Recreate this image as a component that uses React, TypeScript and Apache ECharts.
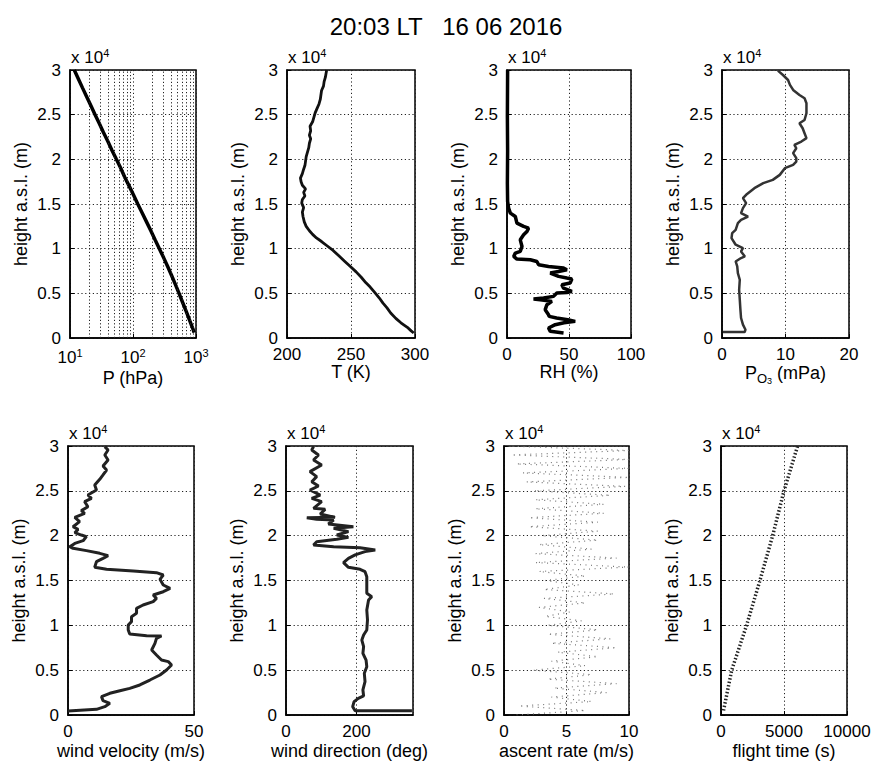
import React, { useEffect, useRef } from 'react';
import * as echarts from 'echarts';

const FONT = '"Liberation Sans", Arial, Helvetica, sans-serif';

// ---------- data ----------
const titleText = '20:03 LT   16 06 2016';

// Pressure (hPa) vs height (m)
const pHeight = [600, 1000, 2000, 3000, 4000, 5000, 6000, 7000, 8000, 9000,
  10000, 11000, 12000, 13000, 14000, 15000, 16000, 17000, 18000, 19000,
  20000, 21000, 22000, 23000, 24000, 25000, 26000, 27000, 28000, 29000, 30000];
const pValue = [935, 895, 790, 697, 612, 538, 470, 410, 355, 306,
  262, 224, 192, 164, 140, 119, 102, 87, 74, 64,
  54.5, 46.5, 40, 34, 29.2, 25, 21.5, 18.4, 15.8, 13.6, 11.7];
const pMinorTicks = [20, 30, 40, 50, 60, 70, 80, 90, 200, 300, 400, 500, 600, 700, 800, 900];

// Temperature (K)
const tHeight = [560, 800, 1200, 1700, 2200, 2800, 3400, 3900, 4500, 5100,
  5700, 6200, 6800, 7400, 8000, 8600, 9200, 9800, 10300, 10800,
  11200, 11600, 12000, 12500, 13000, 13600, 14100, 14600, 15100, 15500,
  15900, 16300, 16700, 17100, 17500, 17900, 18400, 18900, 19300, 19800,
  20300, 20800, 21300, 21800, 22300, 22700, 23200, 23700, 24200, 24700,
  25200, 25700, 26200, 26700, 27200, 27700, 28200, 28700, 29200, 29600, 30000];
const tValue = [299, 297, 294, 289, 285, 281, 278, 275, 272, 268.5,
  265, 261.5, 258, 254, 249.5, 245, 240.5, 236, 231.5, 227,
  223, 220, 217.5, 215, 213.5, 212.5, 212, 213, 211.5, 212,
  214, 213, 214.5, 212, 211, 210.5, 212, 213, 214, 214.5,
  215, 216, 217, 217.5, 218.5, 217.5, 218.5, 218, 220, 221,
  222, 223.5, 225, 226, 226.5, 227, 228.5, 229, 230, 230.5, 231];

// Relative humidity (%)
const rhHeight = [560, 745, 1120, 1490, 1700, 1860, 2050, 2240, 2420, 2610,
  3170, 3730, 4100, 4290, 4360, 4470, 4660, 5030, 5100, 5220,
  5590, 5960, 6150, 6600, 6710, 6900, 7270, 7450, 7640, 7830,
  8010, 8200, 8570, 8760, 8830, 9130, 9500, 9690, 10250, 10990,
  11550, 11930, 12300, 12490, 12860, 13600, 13980, 14540, 15280, 17330,
  21000, 24800, 30000];
const rhValue = [45.6, 34.9, 33.5, 38.9, 46, 55, 49, 40, 34, 33.5,
  30.8, 32.2, 36.2, 26.8, 21.4, 29.5, 37.5, 40.2, 48.3, 52.3,
  45.6, 44.2, 50.9, 52.3, 48.3, 41.6, 34.9, 41.6, 48.3, 45.6,
  33.5, 25.5, 24.1, 18.8, 8, 5.4, 6.7, 10.7, 12.1, 10.7,
  13.4, 16.1, 17.4, 13.4, 8, 6.7, 2.7, 1.3, 0.5, 0.3,
  0.5, 0.3, 0.5];

// Ozone partial pressure (mPa)
const o3Height = [670, 670, 930, 1490, 2240, 3170, 4290, 5400, 6520, 7270,
  8010, 8570, 8950, 9130, 9690, 10060, 10440, 11180, 11740, 12110,
  12860, 13230, 13600, 13980, 14540, 15100, 15650, 16030, 16770, 17330,
  17700, 18260, 19010, 19380, 19750, 20130, 20690, 21240, 21620, 21990,
  22370, 22920, 23480, 24040, 24410, 25160, 26280, 26840, 27210, 27770,
  28330, 28880, 29440, 29930];
const o3Value = [0.16, 3.57, 3.7, 3.3, 3.0, 2.9, 2.8, 2.7, 2.8, 2.5,
  2.4, 2.15, 3.0, 3.6, 3.0, 3.3, 2.15, 1.5, 1.6, 2.15,
  2.5, 3.0, 4.1, 3.0, 3.3, 3.8, 3.3, 3.8, 5.1, 6.5,
  8.0, 9.1, 9.9, 11.2, 11.7, 11.7, 11.2, 11.7, 11.4, 12.5,
  13.3, 13.0, 12.7, 12.2, 13.0, 13.3, 13.3, 13.0, 12.2, 11.2,
  10.7, 10.4, 9.6, 8.8];

// Wind velocity (m/s)
const wvHeight = [450, 630, 930, 1300, 1600, 2040, 2420, 2710, 2970, 3350,
  3900, 4460, 5020, 5580, 5950, 6130, 6690, 7250, 7990, 8550,
  8810, 8850, 9030, 9480, 10040, 10410, 10970, 11340, 11900, 12270,
  12640, 13010, 13380, 13750, 14130, 14500, 15130, 15610, 15870, 16060,
  16250, 16470, 17100, 17470, 17770, 18030, 18330, 18590, 18770, 19140,
  19440, 19890, 20070, 20330, 20700, 21000, 21560, 22040, 22490, 22790,
  23230, 23790, 24160, 24540, 25090, 25650, 26280, 26770, 27320, 27770,
  28440, 29000, 29550, 29930];
const wvValue = [0, 11.3, 14.6, 16.6, 13.9, 13.3, 16.6, 20.6, 24.5, 28.5,
  32.5, 36.5, 39.1, 41.1, 39.8, 37.1, 35.1, 33.2, 34.5, 35.1,
  37.1, 31.2, 24.5, 23.9, 23.9, 25.2, 25.2, 27.2, 27.2, 29.8,
  33.8, 35.1, 33.8, 37.8, 40.5, 37.8, 36.5, 37.8, 35.1, 25.9,
  15.3, 10.6, 11.3, 13.9, 15.9, 12.6, 7.3, 2, 0.7, 2.7,
  6, 7.3, 5.3, 2.7, 4, 2, 4.6, 2.7, 6.6, 5.3,
  7.9, 6.6, 9.3, 7.9, 11.3, 10.6, 12.6, 13.9, 15.3, 13.9,
  15.9, 14.6, 15.9, 14.6];

// Wind direction (deg)
const wdHeight = [480, 480, 930, 1490, 1860, 2120, 2790, 3720, 4650, 5390,
  6130, 6880, 7620, 8360, 8920, 9480, 10600, 11710, 12830, 13200,
  13570, 14680, 15430, 15990, 16250, 16470, 16990, 17470, 17850, 18220,
  18400, 18660, 18770, 18960, 19330, 19590, 19810, 20070, 20450, 20820,
  21000, 21300, 21750, 21820, 22000, 22040, 22420, 22940, 23050, 23790,
  24160, 24530, 25090, 25540, 26020, 26580, 27140, 27880, 28440, 29000,
  29550, 29930];
const wdValue = [357, 196, 189, 193, 205, 220, 218, 224, 222, 229,
  227, 218, 220, 215, 220, 229, 231, 229, 234, 243,
  229, 229, 229, 224, 210, 177, 163, 177, 196, 224,
  253, 210, 135, 78, 87, 144, 177, 144, 177, 135,
  191, 120, 135, 87, 59, 139, 97, 111, 78, 101,
  73, 97, 68, 92, 73, 87, 68, 101, 78, 92,
  73, 78];

// Ascent rate (m/s) scatter envelope (alternating left / right)
const arHeight = [0, 500, 1000, 1500, 2000, 2500, 3000, 3500, 4000, 4500,
  5000, 5500, 6000, 6500, 7000, 7500, 8000, 8500, 9000, 9500,
  10000, 10500, 11000, 11500, 12000, 12500, 13000, 13500, 14000, 14500,
  15000, 15500, 16000, 16500, 17000, 17500, 18000, 18500, 19000, 19500,
  20000, 20500, 21000, 21500, 22000, 22500, 23000, 23500, 24000, 24500,
  25000, 25500, 26000, 26500, 27000, 27500, 28000, 28500, 29000, 29500, 30000];
const arValue = [1.0, 6.5, 1.2, 7.0, 3.8, 8.2, 4.0, 9.0, 3.5, 7.0,
  2.3, 6.5, 3.8, 7.5, 4.3, 9.0, 3.8, 8.5, 3.5, 7.5,
  3.5, 6.2, 3.3, 5.3, 2.8, 6.5, 3.2, 8.8, 3.2, 6.0,
  3.3, 6.5, 2.8, 10.0, 2.5, 9.0, 2.5, 7.0, 2.8, 7.5,
  3.0, 7.5, 2.0, 7.5, 2.0, 8.0, 2.5, 8.0, 2.5, 8.5,
  2.4, 9.7, 1.8, 10.0, 1.5, 10.0, 1.0, 10.0, 0.6, 10.0, 0.3];

// Flight time (s)
const ftHeight = [500, 5000, 10000, 15000, 20000, 25000, 30000];
const ftValue = [200, 850, 2030, 3090, 4100, 5000, 6080];

// ---------- layout ----------
const grids = [
  { left: 70, top: 70, width: 126, height: 268 },
  { left: 287, top: 70, width: 128, height: 268 },
  { left: 507, top: 70, width: 124, height: 268 },
  { left: 722, top: 70, width: 127, height: 268 },
  { left: 68, top: 446, width: 126, height: 269 },
  { left: 286, top: 446, width: 127, height: 269 },
  { left: 504, top: 446, width: 125, height: 269 },
  { left: 721, top: 446, width: 126, height: 269 },
];

const zip = (xs: number[], ys: number[]) => xs.map((x, i) => [x, ys[i]]);

const gridLine = { show: true, lineStyle: { color: '#222', width: 1, type: [1.2, 2.6] } };

function makeYAxis(i: number) {
  return {
    type: 'value', gridIndex: i, min: 0, max: 30000, interval: 5000,
    name: 'height a.s.l. (m)', nameLocation: 'middle', nameGap: 40, nameRotate: 90,
    nameTextStyle: { fontSize: 18, color: '#000', fontFamily: FONT },
    axisLine: { show: true, onZero: false, lineStyle: { color: '#000', width: 1.5 } },
    axisTick: { show: true, inside: true, length: 4, lineStyle: { color: '#000', width: 1 } },
    axisLabel: {
      color: '#000', fontSize: 17, fontFamily: FONT, margin: 9, lineHeight: 10,
      formatter: (v: number) => String(v / 10000),
    },
    splitLine: gridLine,
  };
}

function makeXAxis(i: number, cfg: any) {
  const ax: any = {
    type: cfg.log ? 'log' : 'value', gridIndex: i, min: cfg.min, max: cfg.max,
    name: cfg.name, nameLocation: 'middle', nameGap: cfg.nameGap ?? (i < 4 ? 23 : 27),
    nameTextStyle: { fontSize: 18, color: '#000', fontFamily: FONT, rich: cfg.nameRich },
    axisLine: { show: true, onZero: false, lineStyle: { color: '#000', width: 1.5 } },
    axisTick: { show: true, inside: true, length: 4, lineStyle: { color: '#000', width: 1 } },
    axisLabel: {
      color: '#000', fontSize: 17, fontFamily: FONT, margin: 9, lineHeight: 14,
      showMaxLabel: cfg.showMax !== false,
      formatter: (v: number) => String(v),
      ...(cfg.label || {}),
    },
    splitLine: gridLine,
  };
  if (cfg.log) ax.logBase = 10; else ax.interval = cfg.interval;
  return ax;
}

const xCfgs = [
  {
    log: true, min: 10, max: 1000, name: 'P (hPa)', nameGap: 31,
    label: {
      margin: 9,
      formatter: (v: number) => '{a|10}{s|' + Math.round(Math.log10(v)) + '}',
      rich: {
        a: { fontSize: 17, fontFamily: FONT, color: '#000', lineHeight: 20 },
        s: { fontSize: 11, fontFamily: FONT, color: '#000', lineHeight: 11, verticalAlign: 'top' },
      },
    },
  },
  { min: 200, max: 300, interval: 50, name: 'T (K)' },
  { min: 0, max: 100, interval: 50, name: 'RH (%)' },
  {
    min: 0, max: 20, interval: 10, name: '{a|P}{b|O}{c|3}{a| (mPa)}',
    nameRich: {
      a: { fontSize: 18, fontFamily: FONT, color: '#000', lineHeight: 24 },
      b: { fontSize: 13, fontFamily: FONT, color: '#000', lineHeight: 13, verticalAlign: 'bottom' },
      c: { fontSize: 9, fontFamily: FONT, color: '#000', lineHeight: 4, verticalAlign: 'bottom' },
    },
  },
  { min: 0, max: 50, interval: 50, name: 'wind velocity (m/s)' },
  { min: 0, max: 360, interval: 200, name: 'wind direction (deg)', showMax: false },
  { min: 0, max: 10, interval: 5, name: 'ascent rate (m/s)' },
  { min: 0, max: 10000, interval: 5000, name: 'flight time (s)' },
];

function lineSeries(i: number, xs: number[], ys: number[], lineStyle: any, extra: any = {}) {
  return {
    type: 'line', xAxisIndex: i, yAxisIndex: i, data: zip(xs, ys),
    showSymbol: false, symbol: 'none', silent: true, clip: true,
    lineStyle, ...extra,
  };
}

function buildOption() {
  const graphics: any[] = [
    {
      type: 'text', x: 446, y: 26,
      style: {
        text: titleText, fontSize: 24, fontFamily: FONT, fill: '#000',
        align: 'center', verticalAlign: 'middle', textAlign: 'center', textVerticalAlign: 'middle',
      },
    },
  ];
  grids.forEach((g) => {
    graphics.push({
      type: 'text', left: g.left + 1, top: g.top - 23,
      style: {
        text: '{a|x 10}{s|4}',
        rich: {
          a: { fontSize: 17, fontFamily: FONT, fill: '#000', lineHeight: 20 },
          s: { fontSize: 11, fontFamily: FONT, fill: '#000', lineHeight: 11, verticalAlign: 'top' },
        },
      },
    });
  });

  return {
    animation: false,
    backgroundColor: '#fff',
    grid: grids.map((g) => ({ ...g, show: true, borderColor: '#000', borderWidth: 1.5, backgroundColor: 'transparent', containLabel: false })),
    xAxis: xCfgs.map((c, i) => makeXAxis(i, c)),
    yAxis: grids.map((_, i) => makeYAxis(i)),
    graphic: graphics,
    series: [
      lineSeries(0, pValue, pHeight, { color: '#000', width: 3.5 }, {
        markLine: {
          silent: true, symbol: ['none', 'none'], label: { show: false },
          lineStyle: { color: '#222', width: 1, type: [1.2, 2.2] },
          emphasis: { disabled: true },
          data: pMinorTicks.map((v) => ({ xAxis: v })),
        },
      }),
      lineSeries(1, tValue, tHeight, { color: '#111', width: 2.8 }),
      lineSeries(2, rhValue, rhHeight, { color: '#000', width: 3.5 }),
      lineSeries(3, o3Value, o3Height, { color: '#333', width: 2.5 }),
      lineSeries(4, wvValue, wvHeight, { color: '#222', width: 3 }),
      lineSeries(5, wdValue, wdHeight, { color: '#222', width: 3 }),
      lineSeries(6, arValue, arHeight, { color: '#777', width: 1.2, type: [1, 4.5] }),
      lineSeries(7, ftValue, ftHeight, { color: '#222', width: 3.5, type: [1.5, 2] }),
    ],
  };
}

export default function App() {
  const ref = useRef<HTMLDivElement>(null);
  useEffect(() => {
    if (!ref.current) return;
    const chart = echarts.init(ref.current, null, { renderer: 'svg' });
    chart.setOption(buildOption() as any);
    return () => chart.dispose();
  }, []);
  return <div ref={ref} style={{ position: 'absolute', left: 0, top: 0, width: 874, height: 766, background: '#fff' }} />;
}
